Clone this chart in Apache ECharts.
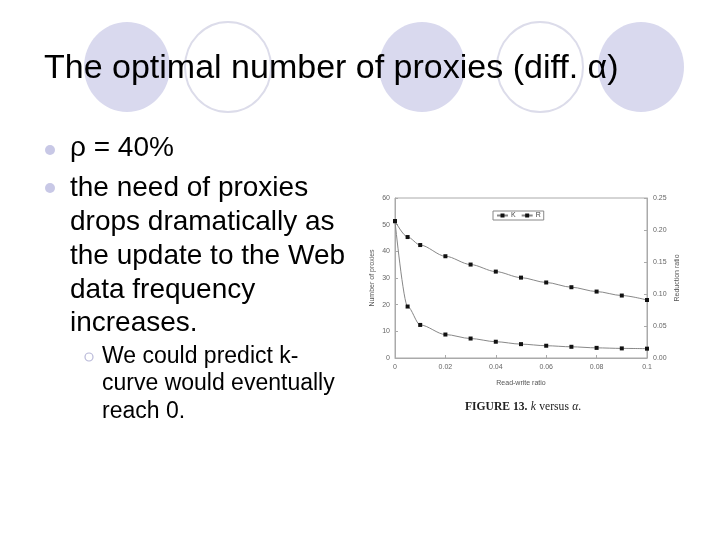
<!DOCTYPE html>
<html>
<head>
<meta charset="utf-8">
<script src="https://cdn.jsdelivr.net/npm/echarts@6/dist/echarts.min.js"></script>
<style>
html,body{margin:0;padding:0;background:#fff;}
#chart{width:720px;height:540px;}
</style>
</head>
<body>
<div id="chart"></div>
<script>
// read-write ratio (x), number of proxies K (left axis), reduction ratio R (right axis)
var readWrite = [0, 0.005, 0.01, 0.02, 0.03, 0.04, 0.05, 0.06, 0.07, 0.08, 0.09, 0.1];
var kProxies = [51.3, 19.3, 12.4, 8.8, 7.3, 6.1, 5.2, 4.6, 4.2, 3.8, 3.6, 3.5];
var rRatio = [0.214, 0.189, 0.1765, 0.159, 0.146, 0.135, 0.1256, 0.118, 0.1106, 0.1038, 0.0976, 0.0906];
var seriesNames = ['K', 'R'];

var titleText = 'The optimal number of proxies (diff. \u03b1)';
var bullets = ['\u03c1 = 40%', 'the need of proxies', 'drops dramatically as', 'the update to the Web', 'data frequency', 'increases.'];
var subBullets = ['We could predict k-', 'curve would eventually', 'reach 0.'];

var kData = readWrite.map(function(x, i){ return [x, kProxies[i]]; });
var rData = readWrite.map(function(x, i){ return [x, rRatio[i]]; });

var lavender = '#d9d9ee';
var sans = 'Liberation Sans, Arial, sans-serif';

var graphics = [];
// background circles behind the title
[[127, true], [228, false], [422, true], [540, false], [641, true]].forEach(function(c){
  graphics.push({
    type: 'ellipse', z: -10,
    shape: {cx: c[0], cy: 67, rx: 43, ry: 45},
    style: c[1] ? {fill: lavender} : {fill: 'none', stroke: '#dcdcea', lineWidth: 2}
  });
});
graphics.push({type: 'text', x: 44, y: 69, style: {text: titleText, font: '34px ' + sans, fill: '#000', textVerticalAlign: 'middle'}});

var lineY = [148, 188, 222, 256, 290, 323];
bullets.forEach(function(t, i){
  graphics.push({type: 'text', x: 70, y: lineY[i], style: {text: t, font: '28px ' + sans, fill: '#000', textVerticalAlign: 'middle'}});
});
graphics.push({type: 'circle', shape: {cx: 50, cy: 150, r: 5}, style: {fill: '#c8c8e6'}});
graphics.push({type: 'circle', shape: {cx: 50, cy: 188, r: 5}, style: {fill: '#c8c8e6'}});

var subY = [357, 384, 412];
subBullets.forEach(function(t, i){
  graphics.push({type: 'text', x: 102, y: subY[i], style: {text: t, font: '23px ' + sans, fill: '#000', textVerticalAlign: 'middle'}});
});
graphics.push({type: 'circle', shape: {cx: 89, cy: 357, r: 4}, style: {fill: 'none', stroke: '#b8b8d8', lineWidth: 1.2}});

// figure caption
graphics.push({
  type: 'text', x: 465, y: 407,
  style: {
    text: '{b|FIGURE 13.} {i|k} {n|versus} {i|\u03b1}{n|.}',
    textVerticalAlign: 'middle',
    rich: {
      b: {font: 'bold 11.6px Liberation Serif, serif', fill: '#222'},
      i: {font: 'italic 11.6px Liberation Serif, serif', fill: '#222'},
      n: {font: '11.6px Liberation Serif, serif', fill: '#222'}
    }
  }
});

var chart = echarts.init(document.getElementById('chart'));
chart.setOption({
  backgroundColor: '#fff',
  animation: false,
  graphic: graphics,
  grid: {left: 395, top: 198, width: 252, height: 160, show: true, borderColor: '#aaa', borderWidth: 1},
  legend: {
    data: seriesNames,
    left: 493, top: 211,
    orient: 'horizontal',
    itemWidth: 11, itemHeight: 5, itemGap: 5,
    padding: [1, 3],
    borderColor: '#888', borderWidth: 1, borderRadius: 0,
    textStyle: {fontSize: 7, color: '#444', fontFamily: sans, padding: [0, 0, 0, -2]}
  },
  xAxis: {
    type: 'value', min: 0, max: 0.1, interval: 0.02,
    name: 'Read-write ratio', nameLocation: 'middle', nameGap: 22,
    nameTextStyle: {fontSize: 7, color: '#555', fontFamily: sans},
    axisLine: {lineStyle: {color: '#aaa'}},
    axisTick: {inside: true, length: 3, lineStyle: {color: '#aaa'}},
    axisLabel: {fontSize: 7, color: '#666', margin: 6, fontFamily: sans},
    splitLine: {show: false}
  },
  yAxis: [{
    type: 'value', min: 0, max: 60, interval: 10, position: 'left',
    name: 'Number of proxies', nameLocation: 'middle', nameGap: 19, nameRotate: 90,
    nameTextStyle: {fontSize: 7, color: '#555', fontFamily: sans},
    axisLine: {show: true, lineStyle: {color: '#aaa'}},
    axisTick: {show: true, inside: true, length: 3, lineStyle: {color: '#aaa'}},
    axisLabel: {fontSize: 7, color: '#666', margin: 5, fontFamily: sans},
    splitLine: {show: false}
  }, {
    type: 'value', min: 0, max: 0.25, interval: 0.05, position: 'right',
    name: 'Reduction ratio', nameLocation: 'middle', nameGap: 27, nameRotate: 90,
    nameTextStyle: {fontSize: 7, color: '#555', fontFamily: sans},
    axisLine: {show: true, lineStyle: {color: '#aaa'}},
    axisTick: {show: true, inside: true, length: 3, lineStyle: {color: '#aaa'}},
    axisLabel: {fontSize: 7, color: '#666', margin: 6, fontFamily: sans,
      formatter: function(v){ return v.toFixed(2); }},
    splitLine: {show: false}
  }],
  series: [{
    name: 'K', type: 'line', yAxisIndex: 0, data: kData,
    smooth: 0.3, smoothMonotone: 'x',
    symbol: 'rect', symbolSize: 4,
    lineStyle: {color: '#888', width: 1},
    itemStyle: {color: '#111'}
  }, {
    name: 'R', type: 'line', yAxisIndex: 1, data: rData,
    smooth: 0.3, smoothMonotone: 'x',
    symbol: 'rect', symbolSize: 4,
    lineStyle: {color: '#888', width: 1},
    itemStyle: {color: '#111'}
  }]
});
</script>
</body>
</html>
